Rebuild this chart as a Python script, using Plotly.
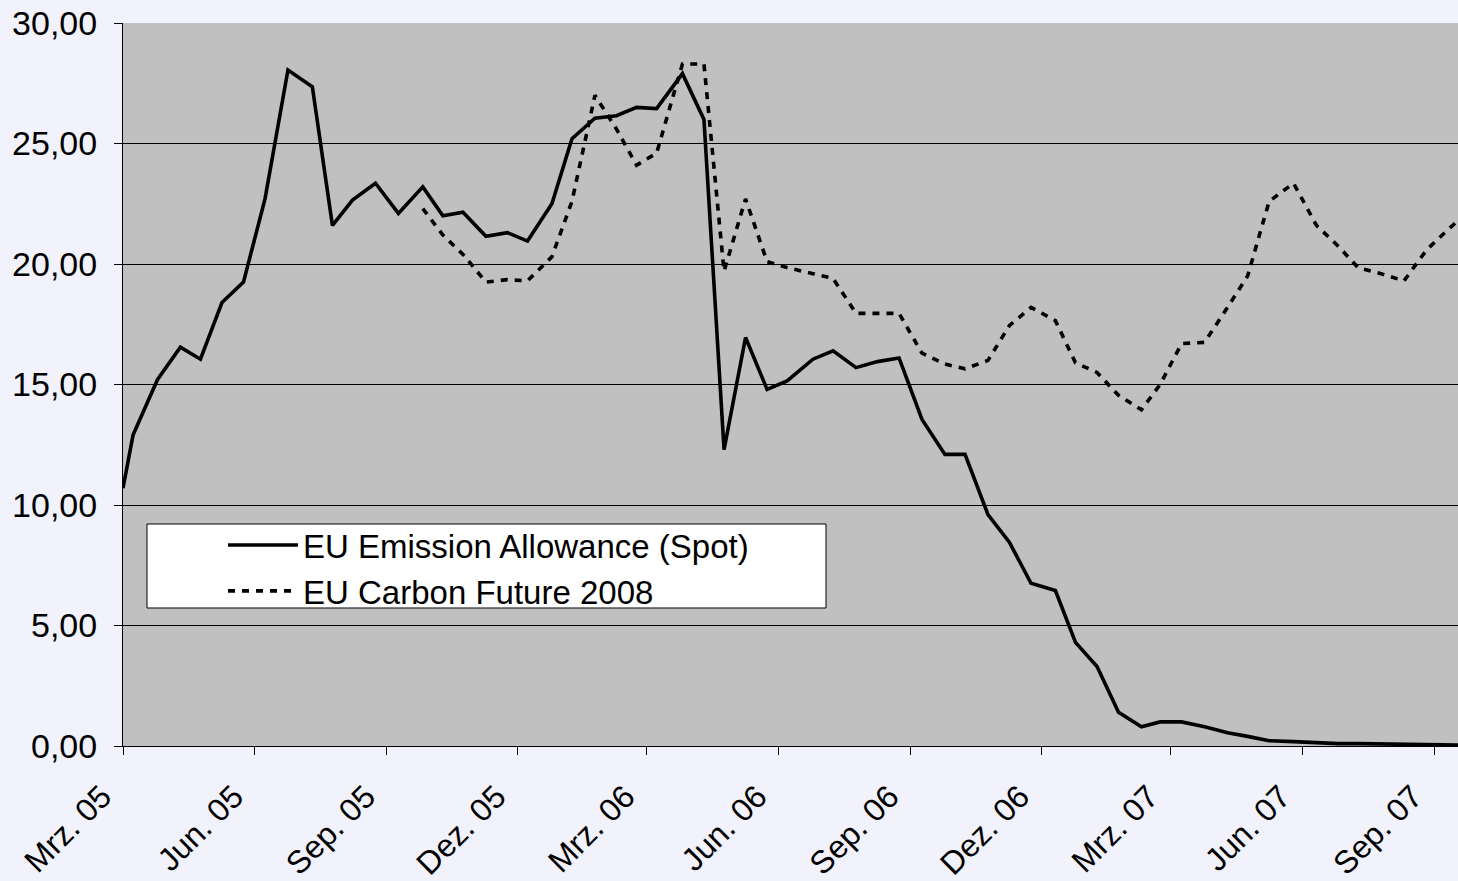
import plotly.graph_objects as go

dates = [
    "2005-03-01", "2005-03-08", "2005-03-25", "2005-04-10", "2005-04-24", "2005-05-09", "2005-05-24",
    "2005-06-08", "2005-06-24", "2005-07-11", "2005-07-25", "2005-08-08", "2005-08-24", "2005-09-09",
    "2005-09-26", "2005-10-10", "2005-10-24", "2005-11-09", "2005-11-24", "2005-12-08", "2005-12-25",
    "2006-01-08", "2006-01-24", "2006-02-08", "2006-02-22", "2006-03-08", "2006-03-26", "2006-04-10",
    "2006-04-24", "2006-05-09", "2006-05-24", "2006-06-07", "2006-06-25", "2006-07-09", "2006-07-25",
    "2006-08-09", "2006-08-24", "2006-09-09", "2006-09-25", "2006-10-09", "2006-10-25", "2006-11-09",
    "2006-11-24", "2006-12-11", "2006-12-25", "2007-01-09", "2007-01-24", "2007-02-09", "2007-02-22",
    "2007-03-09", "2007-03-25", "2007-04-10", "2007-04-24", "2007-05-09", "2007-05-26", "2007-06-11",
    "2007-06-26", "2007-07-10", "2007-07-26", "2007-08-11", "2007-08-27", "2007-09-12", "2007-09-27",
]

spot = [
    10.7, 12.9, 15.2, 16.55, 16.05, 18.4, 19.25, 22.7, 28.05, 27.35, 21.6, 22.65, 23.35, 22.1,
    23.2, 22.0, 22.15, 21.15, 21.3, 20.95, 22.5,
    25.2, 26.05, 26.15, 26.5, 26.45, 27.9, 26.0, 12.3, 16.95, 14.8, 15.15, 16.05, 16.4, 15.7,
    15.95, 16.1, 13.55, 12.1, 12.1, 9.6, 8.45, 6.75, 6.45, 4.3,
    3.3, 1.4, 0.8, 1.0, 1.0, 0.8, 0.55, 0.4, 0.22, 0.18, 0.12, 0.1, 0.1, 0.08, 0.07, 0.06, 0.04, 0.03,
]

future = [None] * 14 + [
    22.3, 21.2, 20.4, 19.25, 19.35, 19.3, 20.3,
    22.6, 27.0, 25.6, 24.1, 24.6, 28.3, 28.3, 19.7, 22.7, 20.1, 19.85, 19.6, 19.4, 17.95,
    17.95, 17.95, 16.3, 15.85, 15.65, 16.0, 17.45, 18.2, 17.65, 15.9,
    15.5, 14.55, 13.95, 15.0, 16.7, 16.75, 18.2, 19.5, 22.6, 23.35, 21.6, 20.75, 19.85, 19.6,
    19.3, 20.6, 21.5, 22.3,
]

tick_dates = ["2005-03-01", "2005-06-01", "2005-09-01", "2005-12-01", "2006-03-01", "2006-06-01",
              "2006-09-01", "2006-12-01", "2007-03-01", "2007-06-01", "2007-09-01"]
tick_labels = ["Mrz. 05", "Jun. 05", "Sep. 05", "Dez. 05", "Mrz. 06", "Jun. 06",
               "Sep. 06", "Dez. 06", "Mrz. 07", "Jun. 07", "Sep. 07"]

series_names = ["EU Emission Allowance (Spot)", "EU Carbon Future 2008"]

FONT = "Liberation Sans, Arial, sans-serif"

fig = go.Figure()
fig.add_trace(go.Scatter(x=dates, y=spot, mode="lines", name=series_names[0],
                         line=dict(color="black", width=3.6), cliponaxis=True))
fig.add_trace(go.Scatter(x=dates, y=future, mode="lines", name=series_names[1],
                         line=dict(color="black", width=3.6, dash="7px,7px"), cliponaxis=True))

# legend box
fig.add_shape(type="rect", xref="paper", yref="paper",
              x0=(147 - 123) / 1335, x1=(826 - 123) / 1335,
              y0=(746 - 608) / 723, y1=(746 - 524) / 723,
              fillcolor="white", line=dict(color="black", width=1), layer="above")

fig.update_layout(
    width=1458, height=881,
    margin=dict(l=123, r=0, t=23, b=135),
    paper_bgcolor="#f2f2fc",
    plot_bgcolor="#c0c0c0",
    separators=",.",
    font=dict(family=FONT, color="black", size=30),
    showlegend=True,
    legend=dict(
        x=(223 - 123) / 1335, y=(746 - 517) / 723, xanchor="left", yanchor="top",
        bgcolor="rgba(0,0,0,0)", borderwidth=0,
        font=dict(family=FONT, size=33, color="black"),
        itemwidth=70, tracegroupgap=0,
    ),
    xaxis=dict(
        type="date",
        range=["2005-03-01", "2007-09-17 16:00"],
        tickmode="array", tickvals=tick_dates, ticktext=tick_labels,
        tickangle=-45, ticks="outside", ticklen=8, tickcolor="black", tickwidth=1,
        showgrid=False, showline=True, linecolor="black", linewidth=1,
        tickfont=dict(family=FONT, size=32, color="black"),
        zeroline=False, ticklabelstandoff=10, ticklabelshift=-21,
    ),
    yaxis=dict(
        range=[0, 30], dtick=5, tickformat=".2f",
        ticks="outside", ticklen=8, tickcolor="black", tickwidth=1,
        showgrid=True, gridcolor="black", gridwidth=1,
        showline=True, linecolor="black", linewidth=1,
        tickfont=dict(family=FONT, size=34, color="black"),
        zeroline=False, ticklabelstandoff=10,
    ),
)

fig.write_html("out.html", config={"displayModeBar": False},
               post_script="document.body.style.margin='0';document.body.style.overflow='hidden';")
